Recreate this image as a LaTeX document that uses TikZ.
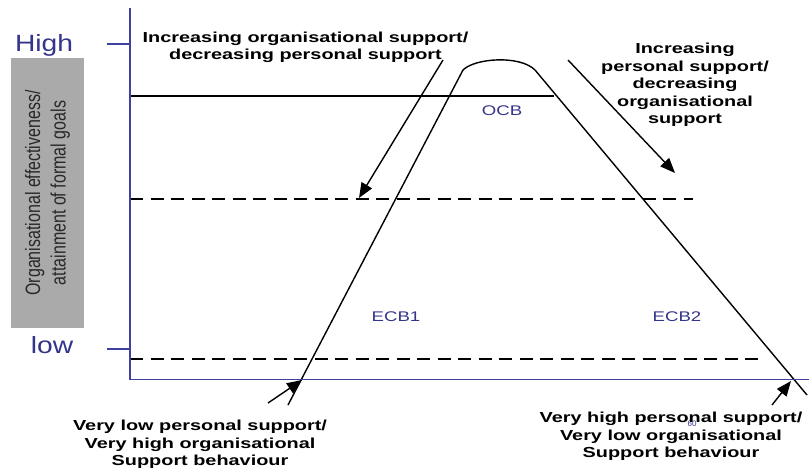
\documentclass[tikz,border=0pt]{standalone}
\usepackage{fontspec}
\setmainfont{Liberation Sans}
\usetikzlibrary{arrows.meta}
\definecolor{axisblue}{RGB}{64,64,160}
\definecolor{labelblue}{RGB}{52,52,138}
\definecolor{boxgray}{RGB}{170,170,170}
\definecolor{titlegray}{RGB}{40,40,40}
\begin{document}
\begin{tikzpicture}[x=1pt,y=-1pt,
  axisline/.style={draw=axisblue, line width=1.4pt},
  curveline/.style={draw=black, line width=1.4pt, line join=round},
  levelline/.style={draw=black, line width=1.3pt},
  dashlevel/.style={levelline, dash pattern=on 13pt off 7.5pt},
  pointer/.style={draw=black, line width=1.4pt, -{Triangle[length=15pt,width=12pt]}},
  note/.style={inner sep=0pt, align=center, anchor=north,
    font=\fontsize{14.5}{17.5}\selectfont\bfseries, xscale=1.37},
  zone/.style={inner sep=0pt, anchor=base, text=labelblue,
    font=\fontsize{14}{16}\selectfont, xscale=1.33},
  levelname/.style={inner sep=0pt, anchor=base, text=labelblue,
    font=\fontsize{23.5}{26}\selectfont, xscale=1.2},
  axistitle/.style={inner sep=0pt, align=center, text=titlegray,
    font=\fontsize{16}{19.5}\selectfont, xscale=1.3, rotate=90}]

\useasboundingbox (0,0) rectangle (809,468);
\fill[white] (0,0) rectangle (809,468);

% axis title box
\node[fill=boxgray, minimum width=73pt, minimum height=270pt, inner sep=0pt]
  (titlebox) at (47.5,193) {};
\node[axistitle] (title) at (titlebox.center)
  {Organisational effectiveness/\\attainment of formal goals};

% level names
\node[levelname] (high) at (44,52) {High};
\node[levelname] (low) at (52,353) {low};

% reference levels
\draw[levelline] (130,96) -- (554,96);
\draw[dashlevel] (130,199) -- (693,199);
\draw[dashlevel] (130,359) -- (760,359);

% support curve
\draw[curveline] (288,405) -- (463,70)
  .. controls (475,58) and (520,55) .. (535,70) -- (807,395);

% direction arrows
\coordinate (lefttail) at (443,60);
\coordinate (lefthead) at (359,198);
\coordinate (righttail) at (568,60);
\coordinate (righthead) at (675,173);
\coordinate (lowtail) at (268,403);
\coordinate (lowhead) at (302,380);
\coordinate (hightail) at (772,405);
\coordinate (highhead) at (791,381);
\draw[pointer] (lefttail) -- (lefthead);
\draw[pointer] (righttail) -- (righthead);
\draw[pointer] (lowtail) -- (lowhead);
\draw[pointer] (hightail) -- (highhead);

% axes
\draw[axisline] (130,8) -- (130,379.7) -- (809,379.7);
\draw[axisline] (107,44) -- (130,44);
\draw[axisline] (107,349) -- (130,349);

% zone labels
\node[zone] (ocb) at (502,116) {OCB};
\node[zone] (ecb1) at (396,321) {ECB1};
\node[zone] (ecb2) at (677,321) {ECB2};
\node[inner sep=0pt, text=labelblue, font=\fontsize{8}{9}\selectfont]
  (pageno) at (692,424) {60};

% annotations
\node[note] (orgup) at (305.5,31.5)
  {Increasing organisational support/\\decreasing personal support};
\node[note] (persup) at (685,43)
  {Increasing\\personal support/\\decreasing\\organisational\\support};
\node[note] (lowend) at (200,420)
  {Very low personal support/\\Very high organisational\\Support behaviour};
\node[note] (highend) at (671,412)
  {Very high personal support/\\Very low organisational\\Support behaviour};
\end{tikzpicture}
\end{document}
